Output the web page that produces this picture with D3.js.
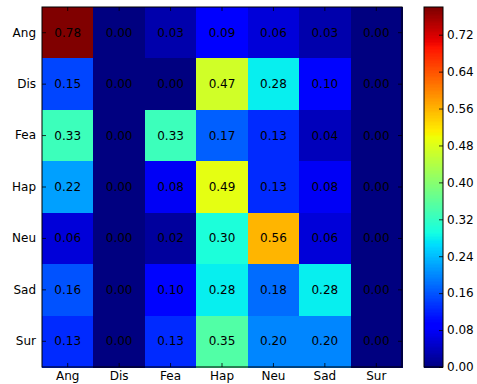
<!doctype html>
<html>
<head>
<meta charset="utf-8">
<script src="https://cdn.jsdelivr.net/npm/d3@7"></script>
<style>
  body { margin: 0; background: #fff; }
  text { font-family: "DejaVu Sans", sans-serif; font-size: 12px; fill: #000; }
  rect.cell, rect.strip { shape-rendering: crispEdges; }
</style>
</head>
<body>
<svg id="chart" width="477" height="384"></svg>
<script>
var labels = ["Ang", "Dis", "Fea", "Hap", "Neu", "Sad", "Sur"];
var values = [
  [0.78, 0.00, 0.03, 0.09, 0.06, 0.03, 0.00],
  [0.15, 0.00, 0.00, 0.47, 0.28, 0.10, 0.00],
  [0.33, 0.00, 0.33, 0.17, 0.13, 0.04, 0.00],
  [0.22, 0.00, 0.08, 0.49, 0.13, 0.08, 0.00],
  [0.06, 0.00, 0.02, 0.30, 0.56, 0.06, 0.00],
  [0.16, 0.00, 0.10, 0.28, 0.18, 0.28, 0.00],
  [0.13, 0.00, 0.13, 0.35, 0.20, 0.20, 0.00]
];
var cbarTicks = [0.00, 0.08, 0.16, 0.24, 0.32, 0.40, 0.48, 0.56, 0.64, 0.72];

// matplotlib jet
function seg(pts, t) {
  for (var i = 1; i < pts.length; i++) {
    if (t <= pts[i][0]) {
      var a = pts[i - 1], b = pts[i];
      return a[1] + (b[1] - a[1]) * (t - a[0]) / (b[0] - a[0]);
    }
  }
  return pts[pts.length - 1][1];
}
function jet(t) {
  t = Math.max(0, Math.min(1, t));
  var r = seg([[0, 0], [0.35, 0], [0.66, 1], [0.89, 1], [1, 0.5]], t);
  var g = seg([[0, 0], [0.125, 0], [0.375, 1], [0.64, 1], [0.91, 0], [1, 0]], t);
  var b = seg([[0, 0.5], [0.11, 1], [0.34, 1], [0.65, 0], [1, 0]], t);
  return d3.rgb(r * 255, g * 255, b * 255).toString();
}

var vmax = d3.max(values, function(r) { return d3.max(r); });
var color = function(v) { return jet(v / vmax); };

var svg = d3.select("#chart");
var mLeft = 42, mTop = 7, size = 360;

var x = d3.scaleBand().domain(labels).range([mLeft, mLeft + size]);
var y = d3.scaleBand().domain(labels).range([mTop, mTop + size]);

var cells = [];
values.forEach(function(row, i) {
  row.forEach(function(v, j) { cells.push({ r: labels[i], c: labels[j], v: v }); });
});

svg.append("g").selectAll("rect").data(cells).enter().append("rect")
  .attr("class", "cell")
  .attr("x", function(d) { return x(d.c); })
  .attr("y", function(d) { return y(d.r); })
  .attr("width", x.bandwidth() + 0.5)
  .attr("height", y.bandwidth() + 0.5)
  .attr("fill", function(d) { return color(d.v); });

svg.append("g").selectAll("text").data(cells).enter().append("text")
  .attr("x", function(d) { return x(d.c) + x.bandwidth() / 2; })
  .attr("y", function(d) { return y(d.r) + y.bandwidth() / 2; })
  .attr("text-anchor", "middle")
  .attr("dominant-baseline", "central")
  .text(function(d) { return d.v.toFixed(2); });

// axes: inward ticks like classic matplotlib
var ax = svg.append("g");
ax.append("g").attr("transform", "translate(0," + (mTop + size) + ")")
  .call(d3.axisBottom(x).tickSize(-4).tickPadding(4));
ax.append("g").attr("transform", "translate(0," + mTop + ")")
  .call(d3.axisTop(x).tickSize(-4).tickFormat(""));
ax.append("g").attr("transform", "translate(" + mLeft + ",0)")
  .call(d3.axisLeft(y).tickSize(-4).tickPadding(6));
ax.append("g").attr("transform", "translate(" + (mLeft + size) + ",0)")
  .call(d3.axisRight(y).tickSize(-4).tickFormat(""));
ax.selectAll(".domain").remove();
ax.selectAll("text").style("font-family", "DejaVu Sans, sans-serif").style("font-size", "12px").attr("fill", "#000");
ax.selectAll("line").attr("stroke", "#000").attr("stroke-width", 0.8);
svg.append("rect").attr("x", mLeft).attr("y", mTop).attr("width", size).attr("height", size)
  .attr("fill", "none").attr("stroke", "#000").attr("stroke-width", 1);

// colorbar
var cbX = 424, cbW = 19;
var cy = d3.scaleLinear().domain([0, vmax]).range([mTop + size, mTop]);
var steps = d3.range(0, 256);
svg.append("g").selectAll("rect").data(steps).enter().append("rect")
  .attr("class", "strip")
  .attr("x", cbX)
  .attr("y", function(s) { return cy((s + 1) / 256 * vmax); })
  .attr("width", cbW)
  .attr("height", function(s) { return cy(s / 256 * vmax) - cy((s + 1) / 256 * vmax) + 1; })
  .attr("fill", function(s) { return jet((s + 0.5) / 256); });
var cb = svg.append("g").attr("transform", "translate(" + (cbX + cbW) + ",0)")
  .call(d3.axisRight(cy).tickValues(cbarTicks).tickFormat(d3.format(".2f")).tickSize(-4).tickPadding(4));
cb.select(".domain").remove();
cb.selectAll("text").style("font-family", "DejaVu Sans, sans-serif").style("font-size", "12px").attr("fill", "#000");
cb.selectAll("line").attr("stroke", "#000").attr("stroke-width", 0.8);
svg.append("rect").attr("x", cbX).attr("y", mTop).attr("width", cbW).attr("height", size)
  .attr("fill", "none").attr("stroke", "#000").attr("stroke-width", 1);
</script>
</body>
</html>
